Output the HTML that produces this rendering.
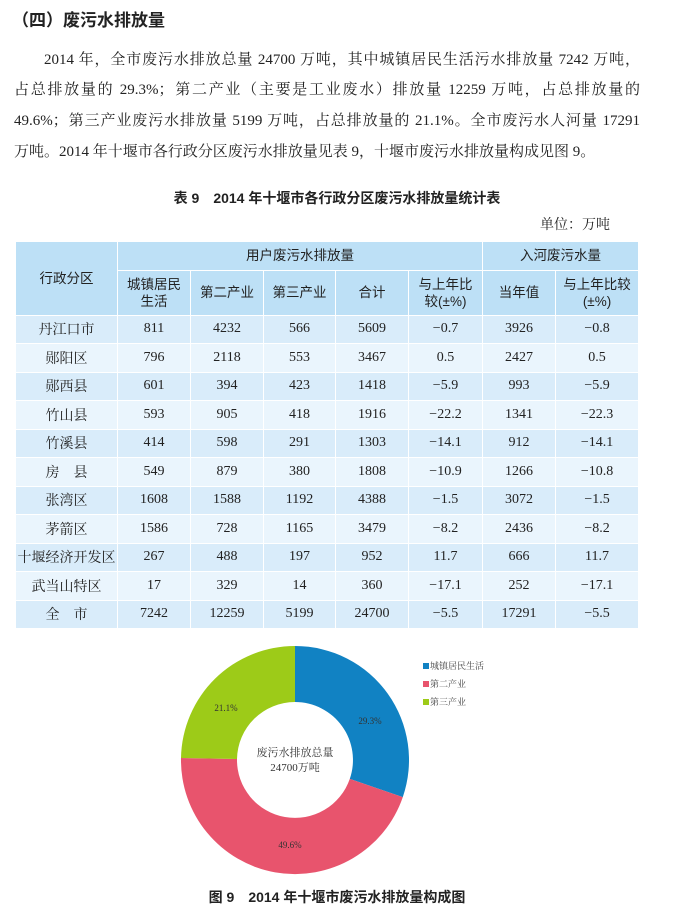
<!DOCTYPE html>
<html><head><meta charset="utf-8"><style>
body{margin:0;background:#fff;width:674px;height:913px;position:relative;overflow:hidden;font-family:"Liberation Serif","Noto Serif CJK SC",serif;color:#222}
.a{position:absolute;white-space:nowrap}
.h{font-family:"Liberation Sans","Noto Sans CJK SC",sans-serif;font-weight:bold}
p{margin:0;position:absolute;left:14px;width:626px;font-size:15px;line-height:31px;text-align:justify;text-align-last:justify;white-space:nowrap}
table{position:absolute;left:15px;top:241px;width:623px;border-collapse:collapse;font-size:14px;table-layout:fixed}
td{border:1.5px solid #fff;text-align:center;padding:0;height:27.5px}
thead td{background:#bde0f6;font-family:"Liberation Sans","Noto Sans CJK SC",sans-serif;font-size:13.5px;line-height:17px}
tbody tr:nth-child(odd) td{background:#d9ecfa}
tbody tr:nth-child(even) td{background:#eaf5fd}
</style></head><body>
<div class="a h" style="left:12px;top:6px;font-size:17px">（四）废污水排放量</div>
<p style="top:45px;left:44px;width:596px">2014 年，全市废污水排放总量 24700 万吨，其中城镇居民生活污水排放量 7242 万吨，</p>
<p style="top:75px">占总排放量的 29.3%；第二产业（主要是工业废水）排放量 12259 万吨，占总排放量的</p>
<p style="top:106px">49.6%；第三产业废污水排放量 5199 万吨，占总排放量的 21.1%。全市废污水人河量 17291</p>
<p style="top:137px;text-align-last:left">万吨。2014 年十堰市各行政分区废污水排放量见表 9，十堰市废污水排放量构成见图 9。</p>
<div class="a h" style="left:0;width:674px;text-align:center;top:188px;font-size:14px">表 9　2014 年十堰市各行政分区废污水排放量统计表</div>
<div class="a" style="left:540px;top:214px;font-size:14px">单位：万吨</div>
<table>
<colgroup><col style="width:102px"><col style="width:73px"><col style="width:73px"><col style="width:72px"><col style="width:73px"><col style="width:74px"><col style="width:73px"><col style="width:83px"></colgroup>
<thead>
<tr><td rowspan="2">行政分区</td><td colspan="5" style="height:25px">用户废污水排放量</td><td colspan="2">入河废污水量</td></tr>
<tr><td style="height:44px">城镇居民<br>生活</td><td>第二产业</td><td>第三产业</td><td>合计</td><td>与上年比<br>较(±%)</td><td>当年值</td><td>与上年比较<br>(±%)</td></tr>
</thead>
<tbody>
<tr><td>丹江口市</td><td>811</td><td>4232</td><td>566</td><td>5609</td><td>−0.7</td><td>3926</td><td>−0.8</td></tr>
<tr><td>郧阳区</td><td>796</td><td>2118</td><td>553</td><td>3467</td><td>0.5</td><td>2427</td><td>0.5</td></tr>
<tr><td>郧西县</td><td>601</td><td>394</td><td>423</td><td>1418</td><td>−5.9</td><td>993</td><td>−5.9</td></tr>
<tr><td>竹山县</td><td>593</td><td>905</td><td>418</td><td>1916</td><td>−22.2</td><td>1341</td><td>−22.3</td></tr>
<tr><td>竹溪县</td><td>414</td><td>598</td><td>291</td><td>1303</td><td>−14.1</td><td>912</td><td>−14.1</td></tr>
<tr><td>房　县</td><td>549</td><td>879</td><td>380</td><td>1808</td><td>−10.9</td><td>1266</td><td>−10.8</td></tr>
<tr><td>张湾区</td><td>1608</td><td>1588</td><td>1192</td><td>4388</td><td>−1.5</td><td>3072</td><td>−1.5</td></tr>
<tr><td>茅箭区</td><td>1586</td><td>728</td><td>1165</td><td>3479</td><td>−8.2</td><td>2436</td><td>−8.2</td></tr>
<tr><td>十堰经济开发区</td><td>267</td><td>488</td><td>197</td><td>952</td><td>11.7</td><td>666</td><td>11.7</td></tr>
<tr><td>武当山特区</td><td>17</td><td>329</td><td>14</td><td>360</td><td>−17.1</td><td>252</td><td>−17.1</td></tr>
<tr><td>全　市</td><td>7242</td><td>12259</td><td>5199</td><td>24700</td><td>−5.5</td><td>17291</td><td>−5.5</td></tr>
</tbody></table>
<svg class="a" style="left:0;top:0" width="674" height="913">
<path d="M295,646 A114,114 0 0 1 402.8,797.1 L349.8,778.9 A58,58 0 0 0 295,702 Z" fill="#1182c3"/>
<path d="M402.8,797.1 A114,114 0 0 1 181,758 L237,759 A58,58 0 0 0 349.8,778.9 Z" fill="#e8546d"/>
<path d="M181,758 A114,114 0 0 1 295,646 L295,702 A58,58 0 0 0 237,759 Z" fill="#9dcb18"/>
<g font-family="Liberation Serif,Noto Serif CJK SC,serif" font-size="9" fill="#333" text-anchor="middle">
<text x="370" y="724">29.3%</text><text x="290" y="848">49.6%</text><text x="226" y="711">21.1%</text>
<text x="295" y="756" font-size="11">废污水排放总量</text><text x="295" y="771" font-size="11">24700万吨</text>
</g>
<g font-family="Liberation Serif,Noto Serif CJK SC,serif" font-size="9" fill="#444">
<rect x="423" y="663" width="6" height="6" fill="#1182c3"/><text x="430" y="669">城镇居民生活</text>
<rect x="423" y="681" width="6" height="6" fill="#e8546d"/><text x="430" y="687">第二产业</text>
<rect x="423" y="699" width="6" height="6" fill="#9dcb18"/><text x="430" y="705">第三产业</text>
</g>
</svg>
<div class="a h" style="left:0;width:674px;text-align:center;top:887px;font-size:14px">图 9　2014 年十堰市废污水排放量构成图</div>
</body></html>
